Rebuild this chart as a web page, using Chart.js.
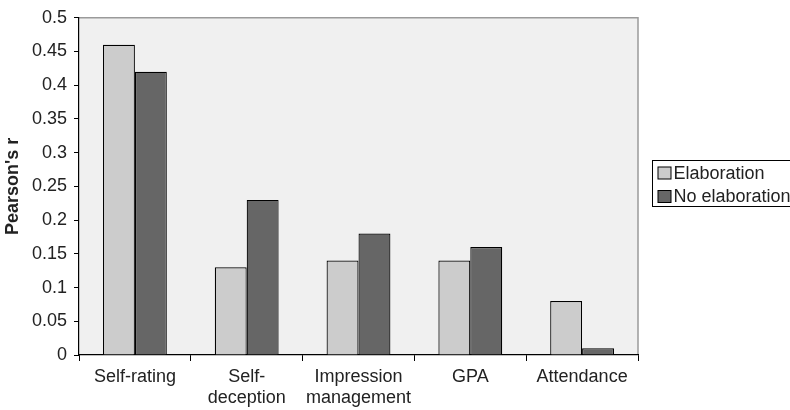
<!DOCTYPE html>
<html>
<head>
<meta charset="utf-8">
<script src="https://cdn.jsdelivr.net/npm/chart.js@4"></script>
<style>
  body { margin: 0; background: #fff; }
  #wrap { width: 790px; height: 410px; }
</style>
</head>
<body>
<div id="wrap"><canvas id="myChart" width="790" height="410"></canvas></div>
<script>
  // categories and series
  const categories = ['Self-rating', ['Self-', 'deception'], ['Impression', 'management'], 'GPA', 'Attendance'];
  const elaboration = [0.46, 0.13, 0.14, 0.14, 0.08];
  const noElaboration = [0.42, 0.23, 0.18, 0.16, 0.01];
  const seriesNames = ['Elaboration', 'No elaboration'];
  const yTickValues = [0, 0.05, 0.1, 0.15, 0.2, 0.25, 0.3, 0.35, 0.4, 0.45, 0.5];

  const FONT = '"Liberation Sans", Arial, sans-serif';
  const SIZE = 18;
  const TEXT = '#222';

  // grey plot background with the light top/right frame
  const plotFrame = {
    id: 'plotFrame',
    beforeDraw(chart) {
      const { ctx, chartArea: a } = chart;
      ctx.save();
      ctx.fillStyle = '#f0f0f0';
      ctx.fillRect(a.left, a.top, a.right - a.left, a.bottom - a.top);
      ctx.strokeStyle = '#9a9a9a';
      ctx.lineWidth = 1.5;
      ctx.beginPath();
      ctx.moveTo(a.left, a.top);
      ctx.lineTo(a.right, a.top);
      ctx.lineTo(a.right, a.bottom);
      ctx.stroke();
      ctx.restore();
    }
  };

  // boxed legend to the right of the plot
  const boxLegend = {
    id: 'boxLegend',
    afterDraw(chart) {
      const { ctx } = chart;
      const x = 652.5, y = 160.5, rowH = 23.5;
      ctx.save();
      ctx.strokeStyle = '#000';
      ctx.lineWidth = 1;
      ctx.strokeRect(x, y, 160, 46);
      ctx.font = SIZE + 'px ' + FONT;
      ctx.textBaseline = 'middle';
      chart.data.datasets.forEach((ds, i) => {
        const cy = y + 12.5 + i * rowH;
        ctx.fillStyle = ds.backgroundColor;
        ctx.fillRect(x + 5.5, cy - 6, 13, 12);
        ctx.strokeStyle = '#000';
        ctx.strokeRect(x + 5.5, cy - 6, 13, 12);
        ctx.fillStyle = TEXT;
        ctx.fillText(ds.label, x + 21, cy + 1);
      });
      ctx.restore();
    }
  };

  const ctx = document.getElementById('myChart');
  new Chart(ctx, {
    type: 'bar',
    data: {
      labels: categories,
      datasets: [{
        label: seriesNames[0],
        data: elaboration,
        backgroundColor: '#cccccc',
        borderColor: '#000',
        borderWidth: 1.2
      }, {
        label: seriesNames[1],
        data: noElaboration,
        backgroundColor: '#666666',
        borderColor: '#000',
        borderWidth: 1.2
      }]
    },
    options: {
      responsive: false,
      animation: false,
      layout: { padding: { top: 14, right: 152, left: 0, bottom: 0 } },
      datasets: { bar: { barPercentage: 1, categoryPercentage: 0.571 } },
      plugins: {
        legend: { display: false },
        tooltip: { enabled: false }
      },
      scales: {
        x: {
          grid: { display: true, drawOnChartArea: false, drawTicks: true, tickLength: 6, color: '#000', offset: true },
          border: { display: true, color: '#000', width: 1.2 },
          ticks: { color: TEXT, font: { family: FONT, size: SIZE, lineHeight: 1.15 }, padding: 6, maxRotation: 0, autoSkip: false },
          afterFit(scale) { scale.height = 55; }
        },
        y: {
          min: 0,
          max: 0.5,
          afterBuildTicks(scale) { scale.ticks = yTickValues.map(v => ({ value: v })); },
          grid: { display: true, drawOnChartArea: false, drawTicks: true, tickLength: 5, color: '#000' },
          border: { display: true, color: '#000', width: 1.2 },
          ticks: {
            color: TEXT,
            font: { family: FONT, size: SIZE },
            padding: 7,
            callback: (v) => String(parseFloat(Number(v).toFixed(2)))
          },
          title: {
            display: true,
            text: "Pearson's r",
            color: TEXT,
            font: { family: FONT, size: SIZE, weight: 'bold' },
            padding: { top: 2, bottom: 0 }
          },
          afterFit(scale) { scale.width = 79; }
        }
      }
    },
    plugins: [plotFrame, boxLegend]
  });
</script>
</body>
</html>
